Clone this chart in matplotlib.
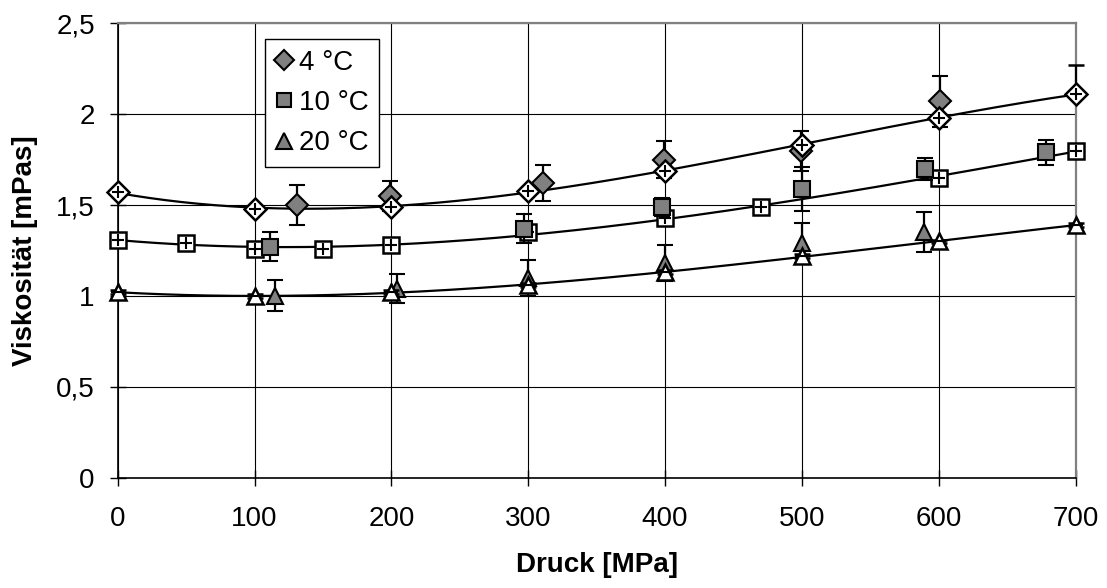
import numpy as np
import matplotlib
matplotlib.use("Agg")
import matplotlib.pyplot as plt
from matplotlib.ticker import MultipleLocator, FuncFormatter

plt.rcParams['font.family'] = ['Liberation Sans', 'DejaVu Sans']

# pressure [MPa] / viscosity [mPas]
p4_open = [0, 100, 200, 300, 400, 500, 600, 700]
v4_open = [1.57, 1.48, 1.49, 1.58, 1.69, 1.83, 1.98, 2.11]
e4_open_up = [0.01, 0.01, 0.01, 0.01, 0.01, 0.01, 0.01, 0.16]
p4_fill = [131, 199, 311, 399, 499, 601]
v4_fill = [1.50, 1.55, 1.62, 1.75, 1.80, 2.07]
e4_fill = [0.11, 0.085, 0.10, 0.10, 0.11, 0.14]

p10_open = [0, 50, 100, 150, 200, 300, 400, 470, 600, 700]
v10_open = [1.31, 1.29, 1.26, 1.26, 1.28, 1.35, 1.43, 1.49, 1.65, 1.80]
p10_fill = [111, 297, 398, 500, 590, 678]
v10_fill = [1.27, 1.37, 1.49, 1.59, 1.70, 1.79]
e10_fill = [0.08, 0.08, 0.05, 0.12, 0.06, 0.07]

p20_open = [0, 100, 200, 300, 400, 500, 600, 700]
v20_open = [1.02, 1.00, 1.02, 1.06, 1.13, 1.22, 1.30, 1.39]
p20_fill = [115, 204, 300, 400, 500, 589]
v20_fill = [1.00, 1.04, 1.10, 1.18, 1.29, 1.35]
e20_fill = [0.085, 0.08, 0.10, 0.10, 0.11, 0.11]

labels = ["4 °C", "10 °C", "20 °C"]
markers = ["D", "s", "^"]
msizes = [11, 11, 12]

GRAY = "#808080"
FS = 20

fig = plt.figure(figsize=(11.07, 5.88), dpi=100)
ax = fig.add_axes([0.1063, 0.1876, 0.8654, 0.7728])

series = [
    (p4_open, v4_open, e4_open_up, p4_fill, v4_fill, e4_fill),
    (p10_open, v10_open, None, p10_fill, v10_fill, e10_fill),
    (p20_open, v20_open, None, p20_fill, v20_fill, e20_fill),
]

pp = np.linspace(0, 700, 300)
handles = []
for i, (po, vo, eo, pf, vf, ef) in enumerate(series):
    m, ms = markers[i], msizes[i]
    # cubic trend line through the open points
    coef = np.polyfit(po, vo, 3)
    ax.plot(pp, np.polyval(coef, pp), color="black", lw=1.6, zorder=2)

    z_fill, z_open = (4, 3) if m == "s" else (3, 4)

    if eo is None:
        yerr_o = 0.01
    else:
        yerr_o = [np.zeros(len(eo)), eo]
    eb = ax.errorbar(po, vo, yerr=yerr_o, fmt=m, ms=ms, mfc="white", mec="black",
                     mew=1.8, ecolor="black", elinewidth=1.6, capsize=5.5,
                     capthick=1.6, zorder=z_open)
    cross = ax.plot(po, vo, ls="none", marker="+" if m != "^" else "_",
                    ms=ms * 0.8, mec="black", mew=1.5, zorder=z_open + 0.1)

    h = ax.errorbar(pf, vf, yerr=ef, fmt=m, ms=ms, mfc=GRAY, mec="black",
                    mew=1.5, ecolor="black", elinewidth=1.6, capsize=5.5,
                    capthick=1.6, zorder=z_fill)
    for art in list(eb.lines[0:1]) + list(eb.lines[1]) + list(eb.lines[2]) + cross \
            + list(h.lines[0:1]) + list(h.lines[1]) + list(h.lines[2]):
        art.set_clip_on(False)
    handles.append(h[0])

ax.set_xlim(0, 700)
ax.set_ylim(0, 2.5)
ax.xaxis.set_major_locator(MultipleLocator(100))
ax.yaxis.set_major_locator(MultipleLocator(0.5))
ax.yaxis.set_major_formatter(FuncFormatter(lambda v, _: f"{v:g}".replace(".", ",")))

ax.set_axisbelow(True)
ax.grid(True, color="black", lw=0.8)
for s in ["left", "bottom"]:
    ax.spines[s].set_color("black")
    ax.spines[s].set_linewidth(1.2)
for s in ["right", "top"]:
    ax.spines[s].set_color(GRAY)
    ax.spines[s].set_linewidth(1.6)

ax.tick_params(axis="both", direction="inout", length=11, width=1.0,
               labelsize=FS, color="black")
ax.tick_params(axis="x", pad=15)
ax.tick_params(axis="y", pad=11)

ax.set_xlabel("Druck [MPa]", fontsize=FS, fontweight="bold", labelpad=14)
ax.set_ylabel("Viskosität [mPas]", fontsize=FS, fontweight="bold", labelpad=13)

leg = ax.legend(handles, labels, loc="upper left", bbox_to_anchor=(0.1538, 0.9655),
                borderaxespad=0, fontsize=FS, frameon=True, fancybox=False,
                edgecolor="black", framealpha=1, handlelength=0.6,
                handletextpad=0.25, labelspacing=0.52, borderpad=0.38,
                markerscale=0.95)
leg.get_frame().set_linewidth(1.0)
leg.set_zorder(6)

fig.savefig("out.png", dpi=100)
